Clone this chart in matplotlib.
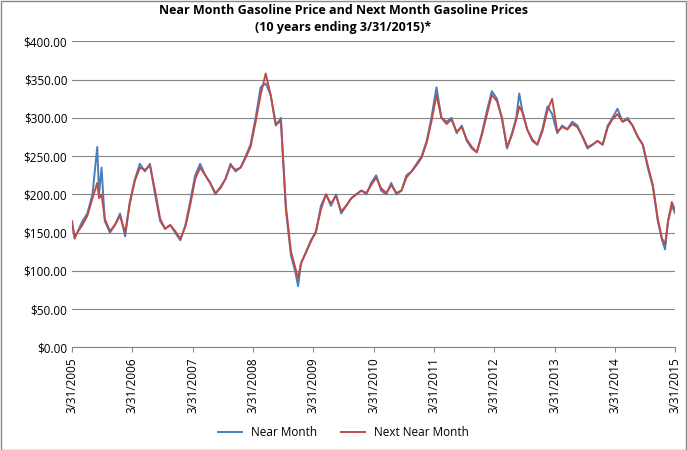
import matplotlib
matplotlib.use("Agg")
import matplotlib.pyplot as plt
import pandas as pd

plt.rcParams['font.family'] = ['Open Sans', 'DejaVu Sans']

dates = ["2005-03-31","2005-04-15","2005-05-01","2005-06-01","2005-07-01","2005-08-01","2005-08-30","2005-09-10",
         "2005-09-25","2005-10-15","2005-11-15","2005-12-15",
         "2006-01-15","2006-02-15","2006-03-15","2006-04-15","2006-05-15","2006-06-15","2006-07-15","2006-08-15",
         "2006-09-15","2006-10-15","2006-11-15","2006-12-15",
         "2007-01-15","2007-02-15","2007-03-15","2007-04-15","2007-05-15","2007-06-15","2007-07-15","2007-08-15",
         "2007-09-15","2007-10-15","2007-11-15","2007-12-15",
         "2008-01-15","2008-02-15","2008-03-15","2008-04-15","2008-05-15","2008-06-15","2008-07-15","2008-08-15",
         "2008-09-15","2008-10-15","2008-11-15","2008-12-10","2008-12-28",
         "2009-01-15","2009-02-15","2009-03-15","2009-04-15","2009-05-15","2009-06-15","2009-07-15","2009-08-15",
         "2009-09-15","2009-10-15","2009-11-15","2009-12-15",
         "2010-01-15","2010-02-15","2010-03-15","2010-04-15","2010-05-15","2010-06-15","2010-07-15","2010-08-15",
         "2010-09-15","2010-10-15","2010-11-15","2010-12-15",
         "2011-01-15","2011-02-15","2011-03-15","2011-04-15","2011-05-15","2011-06-15","2011-07-15","2011-08-15",
         "2011-09-15","2011-10-15","2011-11-15","2011-12-15",
         "2012-01-15","2012-02-15","2012-03-15","2012-04-15","2012-05-15","2012-06-15","2012-07-15","2012-08-10",
         "2012-08-28","2012-09-15","2012-10-15","2012-11-15","2012-12-15",
         "2013-01-15","2013-02-15","2013-03-15","2013-04-15","2013-05-15","2013-06-15","2013-07-15","2013-08-15",
         "2013-09-15","2013-10-15","2013-11-15","2013-12-15",
         "2014-01-15","2014-02-15","2014-03-15","2014-04-15","2014-05-15","2014-06-15","2014-07-15","2014-08-15",
         "2014-09-15","2014-10-15","2014-11-15","2014-12-15",
         "2015-01-10","2015-01-28","2015-02-15","2015-03-10","2015-03-31"]

near_month = [160,145,150,165,175,200,262,200,
              235,165,150,160,
              175,145,190,220,240,230,240,200,165,155,160,150,
              140,160,190,225,240,225,215,200,210,220,240,230,
              235,250,265,300,340,345,330,290,300,180,120,100,80,
              110,125,140,150,185,200,185,200,175,185,195,200,
              205,200,215,225,205,200,215,200,205,225,230,240,
              250,270,300,340,300,295,300,280,290,270,260,255,
              280,310,335,325,300,260,280,300,332,310,285,270,265,
              285,315,305,280,290,285,295,290,275,260,265,270,
              265,290,300,312,295,300,290,275,265,235,210,165,
              140,128,165,185,175]

next_near_month = [165,142,150,160,172,195,215,195,
                   200,168,152,160,
                   172,150,188,218,235,232,238,205,168,155,160,152,
                   142,158,185,220,235,225,215,202,208,220,238,232,
                   235,248,262,295,330,358,330,292,295,185,125,105,90,
                   110,125,138,152,180,200,188,198,178,185,195,200,
                   205,202,212,222,208,202,212,202,205,222,230,238,
                   248,268,295,330,300,292,298,282,288,272,262,255,
                   278,305,330,322,300,262,278,298,315,308,285,272,265,
                   282,310,325,282,288,285,292,288,276,262,265,270,
                   265,288,298,305,295,298,290,276,265,238,212,168,
                   142,135,165,190,178]

x = pd.to_datetime(dates)

fig = plt.figure(figsize=(6.87, 4.5), dpi=100)
ax = fig.add_axes([0.105, 0.228, 0.878, 0.68])
fig.patches.append(plt.Rectangle((0.001, 0.001), 0.997, 0.997, transform=fig.transFigure,
                                 fill=False, edgecolor="#888888", linewidth=1))

ax.plot(x, near_month, color="#4a7ebb", linewidth=1.4, label="Near Month")
ax.plot(x, next_near_month, color="#be4b48", linewidth=1.4, label="Next Near Month")

ax.set_ylim(0, 400)
ax.set_yticks(range(0, 401, 50))
ax.set_yticklabels([f"${v:.2f}" for v in range(0, 401, 50)], fontsize=8.5)
ax.grid(axis="y", color="#868686", linewidth=0.8)
ax.set_axisbelow(True)

ticks = pd.to_datetime([f"{y}-03-31" for y in range(2005, 2016)])
ax.set_xticks(ticks)
ax.set_xticklabels([f"3/31/{y}" for y in range(2005, 2016)], rotation=90, fontsize=8.5)
ax.set_xlim(ticks[0], ticks[-1])

for s in ["top", "right", "left"]:
    ax.spines[s].set_visible(False)
ax.spines["bottom"].set_color("#868686")
ax.tick_params(axis="y", length=0)
ax.tick_params(axis="x", color="#868686")

fig.suptitle("Near Month Gasoline Price and Next Month Gasoline Prices\n(10 years ending 3/31/2015)*",
             fontsize=9, fontweight="bold", y=0.99, linespacing=1.3)
fig.legend(loc="lower center", ncol=2, frameon=False, fontsize=8.5, bbox_to_anchor=(0.5, 0.0))

fig.savefig("out.png")
